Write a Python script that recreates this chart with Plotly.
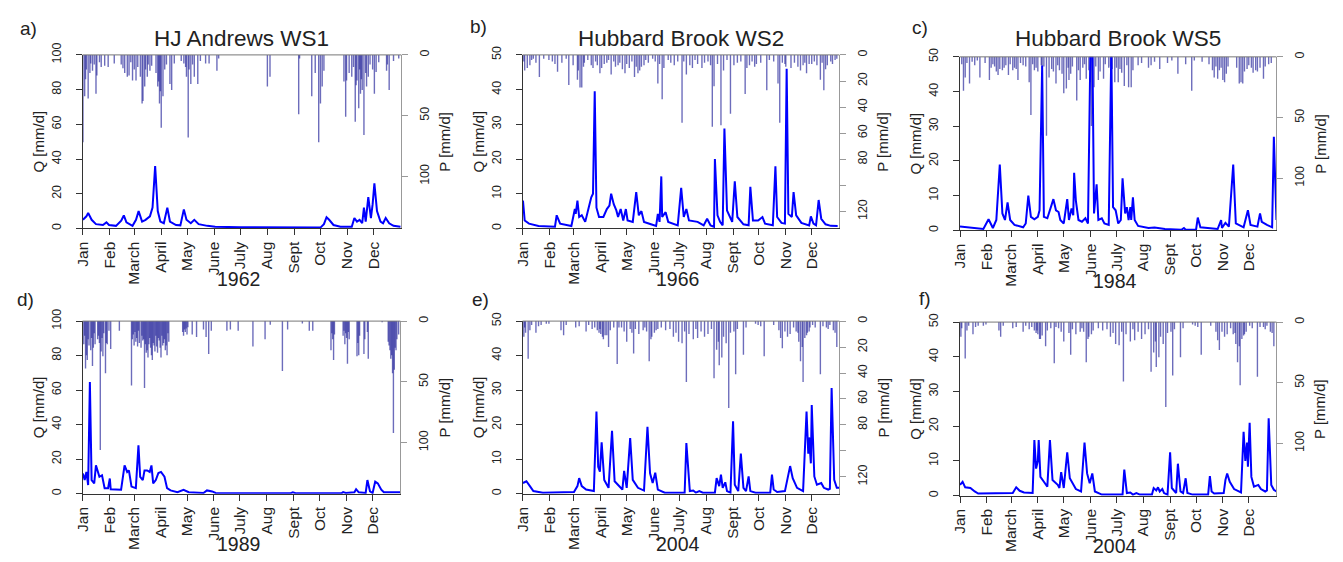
import plotly.graph_objects as go

W, H = 1343, 562
FONT = "Liberation Sans, Arial, Helvetica, sans-serif"

month_days = [0, 31, 59, 90, 120, 151, 181, 212, 243, 273, 304, 334]
month_labels = ["Jan", "Feb", "March", "April", "May", "June", "July", "Aug", "Sept", "Oct", "Nov", "Dec"]

panel_titles = ["HJ Andrews WS1", "Hubbard Brook WS2", "Hubbard Brook WS5", "", "", ""]
panel_letters = ["a)", "b)", "c)", "d)", "e)", "f)"]
panel_years = ["1962", "1966", "1984", "1989", "2004", "2004"]

# ---------------- a) HJ Andrews WS1, 1962 ----------------
a_q_day = [0, 4, 6, 10, 15, 23, 27, 30, 38, 44, 47, 50, 57, 61, 64, 68, 72, 77, 80, 83, 86, 89, 93, 97, 100,
           107, 112, 116, 119, 124, 128, 133, 143, 152, 181, 219, 273, 277, 280, 283, 288, 296, 309, 312, 315,
           318, 321, 323, 325, 328, 331, 333, 335, 338, 342, 345, 348, 352, 357, 365]
a_q = [5, 7, 9, 5, 2.5, 2, 3.5, 2, 1.5, 4.5, 7.5, 3.5, 1.5, 5, 10, 4, 5, 7, 12, 36, 10, 4, 3, 12, 4,
       2, 1.8, 11, 5, 3, 5, 2.5, 1.5, 1, 0.7, 0.5, 0.5, 2.5, 6.5, 5, 2, 1, 1, 6, 4,
       5, 3, 12, 4, 18, 6, 14, 26, 10, 4, 3, 6, 3, 1.5, 1]
a_p_day = [0, 2, 6, 9, 11, 15, 16, 21, 25, 29, 36, 46, 48, 51, 53, 57, 61, 66, 68, 69, 71, 74, 77, 79, 86,
           88, 90, 92, 100, 102, 105, 113, 116, 119, 121, 124, 128, 132, 135, 141, 145, 154, 156, 212, 215,
           248, 249, 263, 267, 271, 273, 275, 277, 300, 302, 303, 306, 309, 313, 315, 317, 319, 321, 323,
           326, 328, 335, 337, 349, 352, 357, 363]
a_p = [72, 34, 36, 7, 13, 32, 17, 10, 9, 10, 7, 11, 15, 18, 17, 21, 21, 18, 40, 38, 26, 18, 13, 9, 26,
       40, 60, 34, 24, 29, 7, 5, 7, 18, 68, 24, 18, 24, 5, 7, 7, 13, 3, 26, 18,
       49, 3, 34, 15, 72, 40, 26, 13, 22, 51, 21, 15, 18, 55, 21, 44, 32, 29, 66,
       26, 18, 32, 14, 13, 29, 5, 3]
a_p_minor_day = [3, 4, 8, 13, 19, 44, 55, 59, 63, 72, 75, 84, 87, 89, 94, 96, 118, 122, 126,
                 311, 314, 318, 320, 325, 330, 333, 340, 350]
a_p_minor = [20, 12, 15, 8, 6, 8, 6, 12, 10, 12, 8, 15, 22, 30, 12, 8, 10, 12, 8,
             10, 25, 12, 20, 15, 8, 12, 6, 8]

# ---------------- b) Hubbard Brook WS2, 1966 ----------------
b_q_day = [0, 2, 7, 18, 37, 39, 43, 56, 60, 61, 63, 65, 68, 72, 76, 79, 81, 83, 85, 88, 93, 97, 100, 102, 105,
           108, 110, 113, 116, 119, 121, 127, 131, 134, 137, 140, 148, 154, 156, 158, 160, 161, 165, 168, 179,
           183, 186, 189, 192, 202, 209, 213, 217, 221, 222, 225, 228, 231, 233, 236, 242, 245, 248, 255, 261,
           263, 266, 272, 277, 280, 289, 292, 294, 299, 303, 305, 307, 311, 313, 316, 322, 331, 333, 336, 339,
           342, 345, 350, 356, 364]
b_q = [8, 2.3, 1.4, 0.7, 0.5, 3.8, 1.4, 0.7, 5.6, 4.2, 8, 3.3, 3.8, 1.9, 6, 9, 10, 39.5, 6, 3.3, 3.3, 5.6, 6.6, 10, 7,
       5.2, 3.3, 5.6, 2.3, 5.6, 2.3, 1.9, 10.5, 3.8, 5, 1.9, 1.2, 0.7, 4.2, 1.9, 15, 3.3, 4.7, 1.9, 0.9,
       11.7, 3.3, 5.6, 2.3, 1.9, 0.9, 2.8, 0.9, 0.5, 20, 3.8, 1.9, 0.9, 28.8, 5.2, 1.9, 13.6, 3.3, 1.2, 0.9,
       12, 2.3, 2.3, 3.3, 1.4, 0.9, 17.9, 3.3, 1.6, 1.4, 46, 4.2, 3.3, 10.5, 3.8, 1.6, 0.9, 3.5, 1.4, 0.9,
       8.2, 2.8, 1.2, 0.75, 0.7]
b_p_day = [5, 8, 19, 34, 37, 40, 53, 63, 66, 68, 70, 79, 81, 89, 94, 102, 110, 118, 123, 129, 133, 137, 140, 156,
           161, 163, 175, 179, 184, 189, 196, 202, 207, 217, 219, 221, 229, 232, 240, 244, 257, 259, 268, 270,
           282, 295, 297, 303, 304, 321, 324, 328, 331, 334, 344, 348, 352, 356, 361]
b_p = [10, 8, 17, 5, 7, 13, 23, 19, 25, 25, 9, 8, 10, 14, 7, 15, 8, 14, 10, 17, 14, 9, 8, 22,
       34, 10, 8, 5, 52, 15, 10, 7, 10, 8, 55, 24, 54, 12, 45, 8, 30, 10, 9, 7,
       27, 22, 52, 7, 9, 12, 8, 14, 7, 7, 19, 27, 8, 5, 4]
b_p_minor_day = [1, 2, 10, 12, 15, 24, 30, 45, 50, 58, 64, 71, 75, 84, 86, 91, 97, 99, 105, 107, 112, 115, 120,
                 126, 131, 135, 142, 145, 150, 153, 158, 168, 171, 186, 193, 199, 210, 214, 225, 236, 248, 252,
                 262, 265, 275, 285, 290, 300, 310, 314, 318, 326, 337, 340, 346, 350, 358, 363]
b_p_minor = [5, 12, 4, 3, 6, 3, 4, 6, 3, 8, 12, 6, 4, 5, 8, 10, 6, 4, 5, 9, 6, 11, 7,
             5, 9, 12, 4, 6, 3, 5, 7, 4, 6, 5, 8, 4, 6, 5, 7, 4, 6, 5,
             8, 5, 6, 4, 5, 6, 10, 6, 9, 6, 5, 8, 6, 11, 7, 3]

# ---------------- c) Hubbard Brook WS5, 1984 ----------------
c_q_day = [0, 11, 27, 33, 35, 38, 42, 46, 49, 52, 55, 58, 63, 73, 76, 79, 82, 86, 90, 92, 95, 97, 101, 105, 108,
           111, 114, 116, 120, 124, 126, 129, 131, 132, 134, 137, 141, 145, 148, 151, 153, 155, 158, 160, 164,
           167, 172, 175, 177, 180, 183, 186, 188, 191, 193, 195, 197, 198, 200, 202, 206, 218, 225, 237, 256,
           259, 261, 273, 275, 278, 298, 302, 303, 307, 311, 316, 319, 328, 333, 336, 344, 347, 349, 355, 361,
           363, 366]
c_q = [1.1, 0.85, 0.4, 3.2, 2, 0.7, 3, 19, 4.9, 3, 8.1, 3, 1.6, 0.9, 2, 10, 3.9, 3.2, 3.9, 5.8, 47.5, 3.9, 3.5, 6.7, 9,
       5.8, 5.3, 3, 2, 9, 3, 6.3, 4.4, 16.6, 8.6, 3, 2.5, 3.5, 2, 55, 55, 4.9, 13.3, 3, 3.5,
       2, 1.6, 52, 6.7, 5.8, 2, 3, 15, 4.9, 6.7, 3, 6.7, 3, 9.5, 3, 1.3, 0.7, 0.85, 0.4, 0.2,
       0.7, 0.2, 0.2, 3.7, 0.9, 0.4, 3, 0.7, 2.2, 1.1, 19, 2, 0.9, 5.8, 1.6, 1.1, 4.9, 2.5, 1.6, 0.9,
       27, 3]
c_p_day = [4, 6, 11, 17, 23, 34, 36, 44, 46, 49, 56, 61, 65, 67, 73, 80, 82, 86, 94, 95, 100, 103, 111, 115, 118,
           120, 123, 126, 135, 139, 146, 149, 152, 155, 160, 166, 172, 176, 179, 183, 187, 190, 195, 198, 206,
           218, 221, 231, 240, 252, 261, 268, 271, 288, 292, 294, 298, 302, 304, 306, 323, 325, 327, 332, 339,
           342, 347, 351, 357]
c_p = [28, 17, 22, 7, 17, 19, 9, 15, 10, 11, 15, 11, 10, 19, 7, 21, 48, 11, 7, 10, 65, 17, 22, 11, 14,
       30, 26, 19, 36, 19, 18, 11, 57, 25, 19, 18, 9, 10, 21, 21, 13, 24, 25, 25, 7,
       9, 7, 10, 5, 14, 6, 28, 3, 6, 11, 17, 18, 9, 19, 21, 22, 21, 22, 10, 13,
       11, 9, 18, 6]
c_p_minor_day = [2, 8, 14, 20, 29, 38, 40, 42, 51, 53, 58, 63, 70, 76, 84, 88, 90, 97, 106, 108, 113, 125, 128,
                 130, 137, 142, 144, 157, 162, 168, 174, 181, 185, 193, 200, 210, 225, 245, 280, 296, 300, 308,
                 310, 320, 329, 334, 337, 344, 353, 360]
c_p_minor = [6, 5, 4, 3, 5, 6, 8, 12, 9, 7, 6, 9, 5, 8, 6, 9, 12, 8, 10, 12, 7, 9, 14,
             8, 11, 9, 6, 8, 12, 6, 8, 9, 10, 7, 11, 5, 4, 3, 4, 8, 11, 14,
             8, 9, 12, 7, 9, 12, 8, 5]

# ---------------- d) HJ Andrews WS1, 1989 ----------------
d_q_day = [0, 2, 4, 6, 8, 10, 13, 15, 19, 22, 25, 29, 31, 32, 44, 48, 51, 53, 56, 61, 64, 66, 69, 71, 74,
           77, 79, 81, 84, 87, 90, 94, 97, 101, 109, 116, 122, 139, 143, 149, 153, 239, 242, 246, 298,
           300, 303, 313, 315, 318, 326, 328, 331, 334, 337, 340, 344, 347, 366]
d_q = [11.7, 7.9, 12.6, 5, 64.7, 7.9, 6, 16.4, 9.8, 10.7, 3.2, 3.2, 8.8, 2.6, 2.3, 16.4, 12.6, 13.5, 4.1, 3.2,
       28, 9.8, 7.9, 13.5, 13.5, 12.6, 16.4, 6, 7.9, 12, 12.6, 9.8, 3.2, 1.9, 0.9, 2.3, 0.9, 0.4, 1.9, 1.3,
       0.4, 0.2, 0.8, 0.2, 0.2, 0.9, 0.4, 0.8, 2.6, 0.8, 0.4, 7.9, 1.3, 0.4, 7, 6, 2.3, 0.8, 0.8]
d_p_day = [1, 3, 5, 9, 11, 14, 17, 20, 23, 26, 28, 32, 42, 56, 58, 61, 63, 69, 71, 74, 76, 79, 82, 85, 88,
           92, 95, 97, 99, 115, 116, 120, 126, 131, 139, 142, 145, 148, 166, 170, 179, 196, 210, 216, 230,
           236, 253, 261, 265, 286, 289, 290, 300, 302, 305, 307, 316, 318, 324, 329, 345, 352, 354, 355, 357,
           358, 361, 364]
d_p = [19, 39, 32, 24, 37, 19, 15, 106, 29, 43, 19, 23, 8, 53, 11, 17, 21, 16, 55, 24, 19, 28, 20, 21, 16,
       20, 24, 28, 17, 9, 12, 11, 11, 13, 7, 13, 27, 8, 8, 7, 8, 21, 15, 3, 41,
       7, 2, 8, 8, 24, 32, 11, 12, 19, 35, 15, 29, 28, 27, 31, 1, 17, 24, 31, 43,
       92, 24, 11]
d_p_minor_day = [2, 4, 6, 7, 10, 12, 13, 18, 19, 21, 22, 24, 27, 30, 57, 59, 60, 62, 64, 65, 67, 68, 70, 72, 73,
                 75, 77, 78, 80, 81, 83, 84, 86, 87, 89, 90, 91, 93, 94, 96, 98, 117, 118, 119, 121, 287, 288,
                 301, 303, 304, 306, 317, 319, 325, 328, 353, 356, 359, 360, 362]
d_p_minor = [12, 28, 15, 20, 14, 22, 10, 12, 18, 25, 14, 10, 18, 8, 15, 20, 9, 14, 8, 18, 22, 12, 15, 19, 26,
             30, 14, 22, 32, 18, 25, 12, 26, 14, 22, 30, 12, 18, 15, 20, 10, 7, 9, 6, 5, 10, 15,
             8, 10, 14, 9, 18, 12, 15, 9, 20, 28, 40, 22, 15]

# ---------------- e) Hubbard Brook WS2, 2004 ----------------
e_q_day = [0, 4, 8, 12, 23, 59, 63, 65, 68, 73, 82, 85, 87, 89, 91, 94, 99, 103, 106, 111, 115, 117, 120, 124, 127,
           133, 140, 144, 147, 150, 153, 156, 164, 187, 189, 193, 197, 200, 204, 208, 222, 224, 227, 229, 231,
           234, 236, 240, 243, 245, 249, 252, 255, 258, 261, 263, 269, 286, 288, 290, 294, 303, 307, 309, 312,
           317, 324, 328, 330, 331, 333, 334, 337, 340, 345, 348, 353, 355, 357, 360, 363, 366]
e_q = [3.1, 3.6, 2.2, 0.75, 0.3, 0.5, 2.2, 4.5, 2.2, 1.2, 0.75, 23.8, 7.8, 6.4, 14.9, 4, 1.7, 18.2, 3.6, 2.2,
       1.2, 6.6, 1.7, 16.1, 4, 1.7, 0.9, 19.4, 5.9, 3.1, 6.1, 1.2, 0.3, 0.3, 14.7, 0.75, 0.9, 0.3, 0.75, 0.3,
       0.3, 4.5, 2.2, 5.5, 1.7, 3.3, 0.75, 0.3, 21, 2.6, 0.75, 11.6, 1.7, 0.75, 5, 0.75, 0.3, 0.3, 5.5, 1.2,
       0.5, 0.75, 5, 8, 4.5, 1.7, 0.75, 23.8, 11.6, 16.3, 8.8, 25.7, 5, 2.6, 3.1, 1.7, 1.2, 1.4, 30.6, 4,
       1.7, 1.7]
e_p_day = [1, 3, 6, 8, 15, 21, 27, 44, 47, 61, 73, 83, 86, 89, 92, 95, 97, 99, 109, 111, 114, 120, 124, 128, 139,
           143, 146, 149, 152, 156, 165, 174, 180, 184, 189, 197, 202, 210, 218, 221, 224, 227, 230, 235, 238,
           240, 246, 248, 255, 269, 272, 279, 296, 298, 300, 313, 316, 319, 321, 324, 326, 329, 332, 335, 344,
           351, 355, 359, 363]
e_p = [12, 9, 29, 7, 9, 3, 2, 7, 11, 5, 8, 5, 7, 6, 12, 11, 11, 20, 33, 5, 5, 16, 6, 25, 7,
       8, 31, 12, 9, 6, 7, 12, 16, 17, 47, 14, 13, 12, 6, 44, 22, 34, 28, 17, 67,
       9, 41, 6, 26, 2, 3, 27, 7, 13, 21, 5, 8, 16, 31, 47, 13, 9, 5, 3, 41,
       5, 3, 7, 20]
e_p_minor_day = [2, 10, 18, 30, 50, 65, 76, 80, 88, 90, 93, 101, 105, 117, 126, 130, 134, 141, 148, 154, 160,
                 170, 177, 187, 192, 200, 206, 214, 226, 232, 244, 258, 275, 290, 303, 306, 309, 318, 323, 328,
                 331, 338, 347, 353, 361]
e_p_minor = [5, 3, 4, 2, 3, 4, 3, 6, 9, 10, 14, 7, 5, 8, 9, 6, 10, 5, 14, 7, 5,
             6, 9, 8, 10, 6, 8, 10, 16, 12, 8, 5, 4, 3, 8, 12, 10, 9, 20, 11,
             8, 5, 4, 6, 9]

# ---------------- f) Hubbard Brook WS5, 2004 ----------------
f_q_day = [0, 3, 6, 10, 12, 17, 21, 61, 65, 69, 74, 84, 86, 88, 90, 91, 93, 97, 101, 104, 107, 113, 115, 117, 120,
           124, 127, 134, 140, 144, 147, 150, 153, 156, 164, 188, 190, 193, 197, 200, 204, 208, 222, 224, 227,
           229, 231, 234, 236, 240, 243, 245, 250, 252, 255, 258, 261, 263, 269, 287, 289, 291, 294, 305, 307,
           309, 312, 317, 325, 328, 330, 332, 333, 335, 337, 340, 345, 348, 353, 355, 357, 360, 363, 366]
f_q = [3.1, 4, 2.4, 2.2, 2.2, 1.2, 0.6, 0.75, 2.4, 1.4, 0.9, 0.75, 16, 7.8, 10, 16, 5.4, 4, 2.6, 16,
       4.5, 3.1, 2.2, 6.8, 2.2, 12.5, 5, 1.9, 1.2, 15.3, 6.4, 3.6, 6.4, 1.2, 0.3, 0.3, 7.5, 0.75, 0.9, 0.3,
       0.75, 0.3, 0.3, 2.2, 1.5, 2.4, 1.2, 1.9, 0.75, 0.3, 12.5, 2.2, 0.75, 9.2, 1.2, 0.75, 5, 0.75, 0.3, 0.3,
       5.6, 1.2, 0.6, 0.75, 4.5, 6.4, 4, 1.9, 0.9, 18.4, 10, 15.3, 8.3, 21, 5.4, 2.6, 3.1, 1.9, 1.2, 1.5,
       22.3, 3.1, 1.7, 1.2]
f_p_day = [1, 6, 8, 15, 21, 27, 45, 47, 61, 73, 83, 89, 92, 95, 99, 109, 111, 120, 128, 139, 146, 149, 152, 165,
           174, 180, 184, 189, 197, 202, 210, 221, 224, 227, 230, 235, 238, 246, 255, 269, 279, 296, 298, 300,
           316, 319, 321, 324, 326, 329, 344, 351, 359, 363]
f_p = [12, 30, 7, 10, 3, 3, 7, 12, 5, 8, 4, 7, 14, 11, 20, 34, 4, 16, 27, 8, 33, 12, 10, 7,
       12, 18, 19, 49, 16, 15, 14, 41, 25, 37, 29, 18, 70, 44, 29, 2, 27, 8, 15, 23,
       10, 18, 33, 52, 14, 10, 45, 4, 8, 20]
f_p_minor_day = [2, 10, 18, 30, 50, 65, 76, 80, 86, 88, 90, 93, 101, 105, 114, 117, 126, 130, 134, 141, 143,
                 148, 154, 160, 170, 177, 187, 192, 200, 206, 214, 218, 226, 232, 240, 244, 248, 258, 272, 275,
                 290, 303, 306, 309, 313, 318, 323, 328, 331, 335, 338, 347, 353, 355, 361]
f_p_minor = [5, 3, 4, 2, 3, 4, 3, 6, 7, 9, 10, 14, 7, 5, 5, 8, 9, 6, 10, 5, 8,
             14, 7, 5, 6, 9, 8, 10, 6, 8, 10, 6, 16, 12, 9, 8, 6, 5, 3, 4,
             3, 8, 12, 10, 5, 9, 20, 11, 8, 3, 5, 4, 6, 3, 9]

q_days = [a_q_day, b_q_day, c_q_day, d_q_day, e_q_day, f_q_day]
q_vals = [a_q, b_q, c_q, d_q, e_q, f_q]
p_days = [a_p_day + a_p_minor_day, b_p_day + b_p_minor_day, c_p_day + c_p_minor_day,
          d_p_day + d_p_minor_day, e_p_day + e_p_minor_day, f_p_day + f_p_minor_day]
p_vals = [a_p + a_p_minor, b_p + b_p_minor, c_p + c_p_minor,
          d_p + d_p_minor, e_p + e_p_minor, f_p + f_p_minor]

# axis settings per panel
q_max = [100, 50, 50, 100, 50, 50]
p_max = [143, 133, 143, 142, 133, 143]
q_ticks_100 = [0, 20, 40, 60, 80, 100]
q_ticks_50 = [0, 10, 20, 30, 40, 50]
p_ticks_a = [0, 50, 100]
p_ticks_b = [0, 20, 40, 60, 80, 100, 120]
p_text_b = ["0", "20", "40", "60", "80", "", "120"]

# plot boxes in pixels: left, right, top, bottom
boxes = [(74, 395, 44, 222), (517, 836, 44, 222), (957, 1276, 46, 224),
         (74, 394, 317, 494), (517, 836, 317, 494), (957, 1276, 318, 496)]
letter_pos = [(20, 17), (473, 15), (917, 16), (17, 295), (475, 295), (922, 294)]

def px(x):
    return x / W

def py(y):
    return 1 - y / H

fig = go.Figure()
layout = dict(width=W, height=H, autosize=False, margin=dict(l=0, r=0, t=0, b=0),
              paper_bgcolor="white", plot_bgcolor="white", showlegend=False,
              barmode="overlay", hovermode=False,
              font=dict(family=FONT, size=13, color="#222"))
annotations = []
shapes = []

for i in range(6):
    n = i + 1
    xa = "x" if n == 1 else f"x{n}"
    pid = 2 * n - 1
    qid = 2 * n
    pa = "y" if pid == 1 else f"y{pid}"
    qa = f"y{qid}"
    L, R, T, B = boxes[i]

    fig.add_trace(go.Bar(x=p_days[i], y=p_vals[i], base=0, xaxis=xa, yaxis=pa, width=1.6,
                         marker=dict(color="rgba(38,38,155,0.68)", line=dict(width=0))))
    fig.add_trace(go.Scatter(x=q_days[i], y=q_vals[i], xaxis=xa, yaxis=qa, mode="lines",
                             line=dict(color="#0000ff", width=2)))

    xkey = "xaxis" if n == 1 else f"xaxis{n}"
    pkey = "yaxis" if pid == 1 else f"yaxis{pid}"
    qkey = f"yaxis{qid}"

    layout[xkey] = dict(domain=[px(L), px(R)], range=[-0.5, 366], anchor=pa,
                        showline=True, linecolor="#333", linewidth=1, showgrid=False, zeroline=False,
                        tickmode="array", tickvals=month_days, ticktext=month_labels,
                        tickangle=-90, ticks="outside", ticklen=6, tickcolor="#333",
                        tickfont=dict(size=15.5, color="#222", family=FONT))
    if p_max[i] == 133:
        pt, ptt = p_ticks_b, p_text_b
    else:
        pt, ptt = p_ticks_a, [str(v) for v in p_ticks_a]
    layout[pkey] = dict(domain=[py(B), py(T)], range=[p_max[i], 0], anchor=xa, side="right",
                        showline=True, linecolor="#999", linewidth=1, showgrid=False, zeroline=False,
                        tickmode="array", tickvals=pt, ticktext=ptt, tickangle=-90,
                        ticks="outside", ticklen=6, tickcolor="#999", ticklabelstandoff=6,
                        tickfont=dict(size=12.5, color="#222", family=FONT))
    qt = q_ticks_100 if q_max[i] == 100 else q_ticks_50
    layout[qkey] = dict(domain=[py(B), py(T)], range=[0, q_max[i]], anchor=xa, side="left",
                        overlaying=pa,
                        showline=True, linecolor="#333", linewidth=1, showgrid=False, zeroline=False,
                        tickmode="array", tickvals=qt, ticktext=[str(v) for v in qt], tickangle=-90,
                        ticks="outside", ticklen=6, tickcolor="#333", ticklabelstandoff=10,
                        tickfont=dict(size=12.5, color="#222", family=FONT))

    # top border line
    shapes.append(dict(type="line", xref="paper", yref="paper", x0=px(L), x1=px(R), y0=py(T), y1=py(T),
                       line=dict(color="#777", width=1)))

    # axis titles
    annotations.append(dict(text="Q [mm/d]", x=px(L - 44), y=py((T + B) / 2), xref="paper", yref="paper",
                            textangle=-90, showarrow=False, font=dict(size=15, family=FONT, color="#222"),
                            xanchor="center", yanchor="middle"))
    annotations.append(dict(text="P [mm/d]", x=px(R + 44), y=py((T + B) / 2), xref="paper", yref="paper",
                            textangle=-90, showarrow=False, font=dict(size=15, family=FONT, color="#222"),
                            xanchor="center", yanchor="middle"))
    # year label
    annotations.append(dict(text=panel_years[i], x=px((L + R) / 2 - 3), y=py(B + 52), xref="paper", yref="paper",
                            showarrow=False, font=dict(size=19.5, family=FONT, color="#222"),
                            xanchor="center", yanchor="middle"))
    # panel letter
    lx, ly = letter_pos[i]
    annotations.append(dict(text=panel_letters[i], x=px(lx), y=py(ly), xref="paper", yref="paper",
                            showarrow=False, font=dict(size=19, family=FONT, color="#222"),
                            xanchor="center", yanchor="middle"))
    # title
    if panel_titles[i]:
        annotations.append(dict(text=panel_titles[i], x=px((L + R) / 2), y=py(27), xref="paper", yref="paper",
                                showarrow=False, font=dict(size=22.5, family=FONT, color="#222"),
                                xanchor="center", yanchor="middle"))

layout["annotations"] = annotations
layout["shapes"] = shapes
fig.update_layout(**layout)
fig.write_html("out.html", config={"displayModeBar": False, "staticPlot": True},
               post_script="document.body.style.margin='0';document.body.style.overflow='hidden';")
